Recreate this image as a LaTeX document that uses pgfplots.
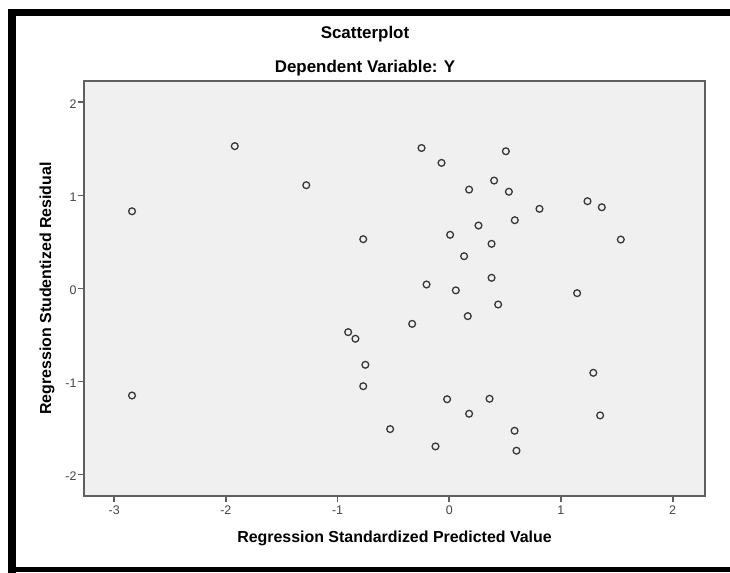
\documentclass[border=0pt]{standalone}
\usepackage{fontspec}
\setmainfont{Liberation Sans}
\usepackage{pgfplots}
\pgfplotsset{compat=1.18}
\definecolor{plotbg}{HTML}{F0F0F0}
\definecolor{framegray}{HTML}{5F5F5F}
\definecolor{markgray}{HTML}{383838}
\definecolor{ticktext}{HTML}{454545}

\begin{document}
\begin{tikzpicture}
\useasboundingbox (0bp,0bp) rectangle (730bp,573bp);
\fill[white] (0bp,0bp) rectangle (730bp,573bp);
\begin{axis}[
  at={(84bp,77bp)}, anchor=south west,
  scale only axis, width=621bp, height=415bp,
  xmin=-3.27, xmax=2.29, ymin=-2.23, ymax=2.23,
  xtick={-3,-2,-1,0,1,2}, xticklabels={-3,-2,-1,0,1,2},
  ytick={-2,-1,0,1,2}, yticklabels={-2,-1,0,1,2},
  tick align=outside, tick pos=left, major tick length=6.5bp,
  tick style={framegray, line width=1.8bp},
  axis line style={framegray, line width=1.8bp},
  axis background/.style={fill=plotbg},
  tick label style={font=\fontsize{12.5}{14}\selectfont, text=ticktext},
  yticklabel style={xshift=2.5bp, yshift=-1.5bp},
  xlabel={Regression Standardized Predicted Value},
  ylabel={Regression Studentized Residual},
  label style={font=\fontsize{16}{19}\selectfont\bfseries},
  x label style={at={(axis description cs:0.5,-0.101)}, anchor=center},
  y label style={at={(axis description cs:-0.0596,0.5)}, anchor=center, rotate=0},
]
\addplot[only marks, mark=o, mark size=3.4bp,
  mark options={draw=markgray, line width=1.3bp}] coordinates {
  (-2.84,0.83) (-1.92,1.53) (-1.28,1.11) (-0.77,0.53)
  (-2.84,-1.15) (-0.905,-0.469) (-0.84,-0.54) (-0.751,-0.82) (-0.77,-1.05)
  (-0.248,1.51) (-0.069,1.35) (0.507,1.475) (0.178,1.063) (0.402,1.16)
  (0.534,1.04) (0.808,0.856) (1.238,0.938) (1.366,0.873) (0.587,0.734)
  (0.262,0.677) (0.008,0.577) (0.379,0.48) (1.536,0.526) (0.133,0.347)
  (0.379,0.115) (-0.203,0.043)
  (0.059,-0.02) (1.145,-0.05) (0.438,-0.172) (0.166,-0.297) (-0.332,-0.38)
  (1.29,-0.906) (-0.019,-1.19) (0.361,-1.185) (0.178,-1.346) (1.351,-1.364)
  (-0.529,-1.511) (0.585,-1.529) (-0.123,-1.697) (0.602,-1.743)
};
\end{axis}
% titles, centred on the whole frame
\node[font=\fontsize{17}{20}\selectfont\bfseries] at (365bp,539bp) {Scatterplot};
\node[font=\fontsize{17}{20}\selectfont\bfseries] at (365bp,505bp) {Dependent Variable: Y};
% black frame
\fill[black] (8.3bp,0.5bp) rectangle (16bp,564bp);
\fill[black] (8.3bp,556.5bp) rectangle (730bp,564bp);
\fill[black] (8.3bp,1.5bp) rectangle (730bp,5.5bp);
\end{tikzpicture}
\end{document}
